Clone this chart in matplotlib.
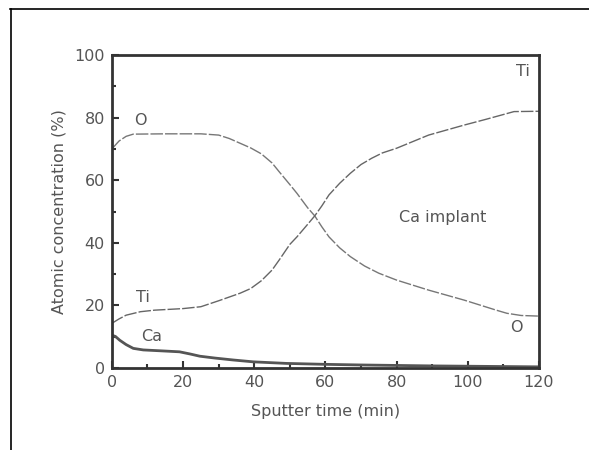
import matplotlib.pyplot as plt
from matplotlib.lines import Line2D
from matplotlib.ticker import MultipleLocator

# data
t_o = [0, 2, 4, 6, 15, 25, 30, 33, 36, 39, 42, 45, 47, 50, 52, 55, 57, 59, 61, 64, 67, 71, 75, 80, 89,
       99, 108, 111, 115, 120]
c_o = [70, 72.5, 74, 74.7, 74.8, 74.8, 74.4, 73.3, 71.8, 70.3, 68.4, 65.5, 62.7, 58.6, 55.8, 51.2,
       48.6, 45.1, 41.9, 38.4, 35.6, 32.6, 30.3, 28.1, 24.9, 21.7, 18.5, 17.5, 16.8, 16.6]

t_ti = [0, 2, 4, 8, 12, 20, 25, 30, 36, 39, 42, 45, 47, 50, 52, 55, 57, 59, 61, 64, 67, 70, 73, 76, 80,
        89, 99, 105, 113, 120]
c_ti = [14.3, 15.7, 16.9, 18, 18.5, 19, 19.6, 21.5, 23.9, 25.4, 27.9, 31.3, 34.5, 39.5, 41.9, 45.9,
        48.6, 51.8, 55.3, 59, 62.2, 65, 67, 68.7, 70.2, 74.4, 77.6, 79.4, 81.9, 82]

t_ca = [0, 1, 2.2, 4, 6, 8.8, 14, 19, 22, 24.7, 29, 34, 39.7, 49, 60, 70, 90, 110, 120]
c_ca = [10.5, 10.1, 8.9, 7.5, 6.3, 5.8, 5.5, 5.2, 4.5, 3.8, 3.2, 2.6, 2.0, 1.5, 1.2, 1.0, 0.7, 0.5, 0.4]

labels = [("O", 7.9, 79), ("Ti", 115.5, 94.6), ("Ti", 8.7, 22.4), ("Ca", 11.2, 10.2),
          ("O", 113.8, 13.1), ("Ca implant", 93, 48)]

fig = plt.figure(figsize=(5.89, 4.5), dpi=100)
ax = fig.add_axes([0.190, 0.182, 0.725, 0.696])

ax.plot(t_o, c_o, color='#777777', lw=1.0, dashes=(9, 1.5))
ax.plot(t_ti, c_ti, color='#666666', lw=1.0, dashes=(9, 1.5))
ax.plot(t_ca, c_ca, color='#555555', lw=2.0)

txt = '#555555'
for s, x, y in labels:
    ax.text(x, y, s, ha='center', va='center', fontsize=11.5, color=txt)

ax.set_xlim(0, 120)
ax.set_ylim(0, 100)
ax.xaxis.set_major_locator(MultipleLocator(20))
ax.xaxis.set_minor_locator(MultipleLocator(10))
ax.yaxis.set_major_locator(MultipleLocator(20))
ax.yaxis.set_minor_locator(MultipleLocator(10))
ax.tick_params(which='both', direction='in', top=False, right=False,
               color='#333333', width=1.5, labelsize=11.5, labelcolor=txt)
ax.tick_params(which='major', length=5, pad=5)
ax.tick_params(which='minor', length=3)
for sp in ax.spines.values():
    sp.set_linewidth(2)
    sp.set_color('#333333')

ax.set_xlabel('Sputter time (min)', fontsize=11.5, color=txt, labelpad=10)
ax.set_ylabel('Atomic concentration (%)', fontsize=11.5, color=txt, labelpad=6)

# outer frame of the figure panel
fig.add_artist(Line2D([10 / 589, 1], [1 - 9 / 450, 1 - 9 / 450], color='black', lw=1.2))
fig.add_artist(Line2D([11 / 589, 11 / 589], [0, 1 - 9 / 450], color='black', lw=1.2))

fig.savefig('out.png', dpi=100)
